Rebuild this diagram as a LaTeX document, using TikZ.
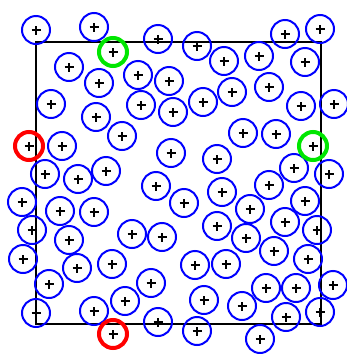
\documentclass[tikz,border=0pt]{standalone}
\begin{document}
\begin{tikzpicture}[x=1pt,y=-1pt,
  plusmark/.style={path picture={\draw[black,line width=1.4pt,line cap=butt]
    ([xshift=-4.5pt]path picture bounding box.center) -- ([xshift=4.5pt]path picture bounding box.center)
    ([yshift=-4.5pt]path picture bounding box.center) -- ([yshift=4.5pt]path picture bounding box.center);}},
  disk/.style={circle,draw=blue,line width=2pt,minimum size=28pt,inner sep=0pt,plusmark},
  greenring/.style={circle,draw={rgb,255:red,0;green,230;blue,0},line width=4pt,minimum size=28pt,inner sep=0pt,plusmark},
  redring/.style={circle,draw=red,line width=4pt,minimum size=28pt,inner sep=0pt,plusmark},
  frame/.style={draw=black,line width=2.8pt}]
\useasboundingbox (0,0) rectangle (346,354);
\coordinate (sqa) at (36,42);
\coordinate (sqb) at (321,324);
\draw[frame] (sqa) rectangle (sqb);
\foreach \x/\y [count=\i] in {
36/30, 94/27, 158/39, 197/46, 285/34, 320/29, 69/67, 99/83, 138/75, 169/81,
224/61, 259/56, 305/62, 51/104, 96/117, 141/105, 173/112, 203/102, 232/92, 269/87,
301/106, 334/104, 122/136, 62/146, 243/133, 276/134, 171/153, 45/174, 78/179, 106/171,
217/159, 294/168, 329/174, 22/202, 156/186, 184/203, 222/192, 269/185, 60/211, 94/212,
250/209, 305/201, 285/222, 32/230, 69/240, 132/234, 162/237, 217/226, 246/238, 317/230,
274/251, 23/259, 77/268, 112/264, 195/265, 226/264, 308/259, 49/284, 151/283, 266/288,
296/288, 333/285, 204/300, 125/301, 36/313, 94/311, 242/306, 286/317, 320/312, 158/322,
197/331, 260/339}
  \node[disk] (c\i) at (\x,\y) {};
\node[greenring] (g1) at (113,52) {};
\node[greenring] (g2) at (313,146) {};
\node[redring] (r1) at (29,146) {};
\node[redring] (r2) at (113,334) {};
\end{tikzpicture}
\end{document}
